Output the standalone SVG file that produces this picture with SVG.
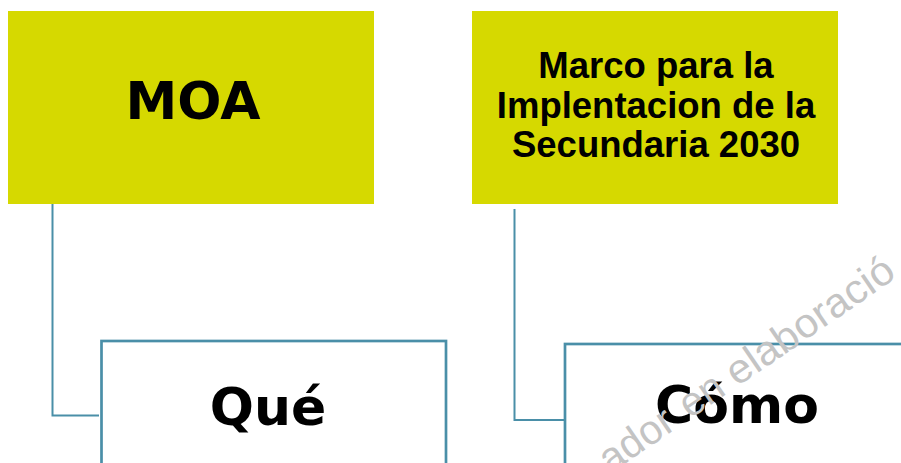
<svg xmlns="http://www.w3.org/2000/svg" width="901" height="463" viewBox="0 0 901 463">
<style>
.top{fill:#d6d900}
.box{fill:#ffffff;stroke:#4a8fa8;stroke-width:2.7}
.conn{fill:none;stroke:#4a8fa8;stroke-width:2}
.big{font-family:"DejaVu Sans","Liberation Sans",sans-serif;font-weight:bold;font-size:52px;fill:#000;text-anchor:middle}
.mid{font-family:"Liberation Sans",Arial,sans-serif;font-weight:bold;font-size:36.5px;fill:#000;text-anchor:middle}
.wm{font-family:"Liberation Sans",Arial,sans-serif;font-size:41px;fill:#c4c4c4}
</style>
<rect width="901" height="463" fill="#ffffff"/>
<g id="connectors">
<path class="conn" d="M52.5,204 V415.5 H99"/>
<path class="conn" d="M514.5,209 V420 H564"/>
</g>
<g id="moa">
<rect class="top" x="8" y="11" width="366" height="193"/>
<text class="big" x="193" y="119">MOA</text>
</g>
<g id="marco">
<rect class="top" x="472" y="11" width="366" height="193"/>
<text class="mid" x="656" y="78">Marco para la</text>
<text class="mid" x="656" y="118">Implentacion de la</text>
<text class="mid" x="656" y="157">Secundaria 2030</text>
</g>
<g id="que">
<rect class="box" x="101.5" y="341" width="344.5" height="140"/>
<text class="big" x="268" y="425">Qué</text>
</g>
<g id="como">
<rect class="box" x="565" y="344" width="345" height="140"/>
<text class="big" x="737" y="423">Cómo</text>
</g>
<text class="wm" transform="translate(610,474) rotate(-34.4)"><tspan x="0" y="0">ador</tspan><tspan x="97" y="0">en</tspan><tspan x="154" y="0" textLength="195" lengthAdjust="spacingAndGlyphs">elaboració</tspan></text>
</svg>
